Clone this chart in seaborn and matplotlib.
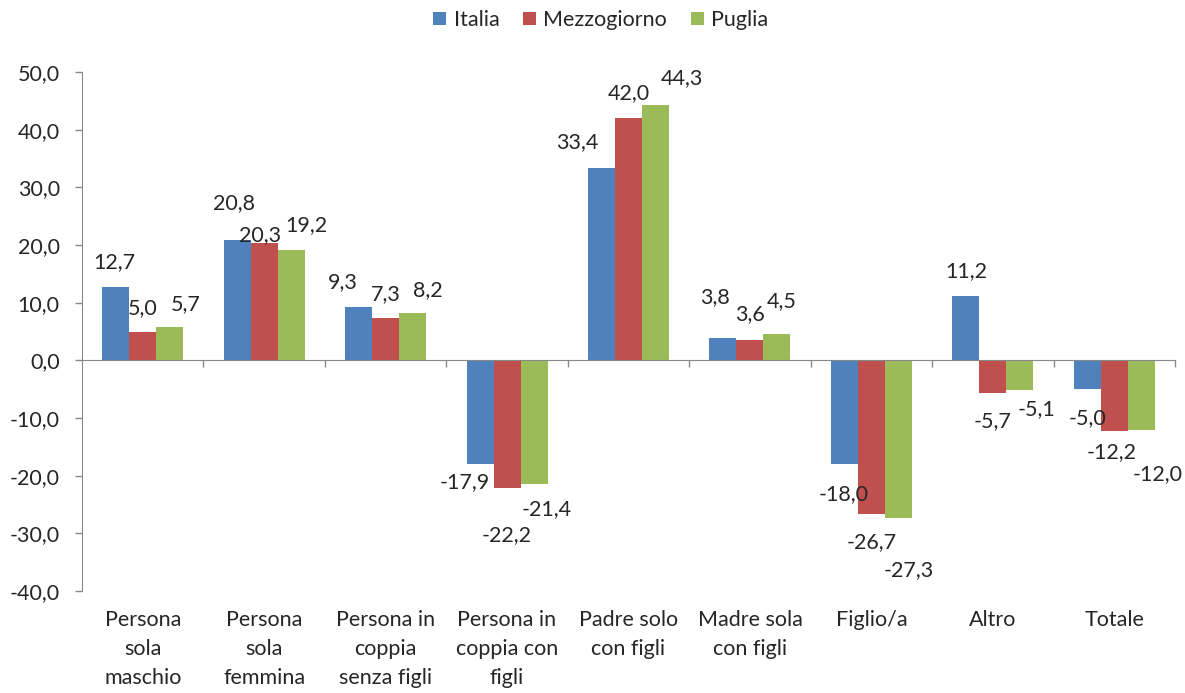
import matplotlib
matplotlib.use("Agg")
import matplotlib.pyplot as plt
import matplotlib.transforms as mtransforms
from matplotlib.ticker import FuncFormatter, FixedLocator
import seaborn as sns
import pandas as pd
import numpy as np

categories = ["Persona\nsola\nmaschio", "Persona\nsola\nfemmina", "Persona in\ncoppia\nsenza figli",
              "Persona in\ncoppia con\nfigli", "Padre solo\ncon figli", "Madre sola\ncon figli",
              "Figlio/a", "Altro", "Totale"]
series = ["Italia", "Mezzogiorno", "Puglia"]
italia = [12.7, 20.8, 9.3, -17.9, 33.4, 3.8, -18.0, 11.2, -5.0]
mezzogiorno = [5.0, 20.3, 7.3, -22.2, 42.0, 3.6, -26.7, -5.7, -12.2]
puglia = [5.7, 19.2, 8.2, -21.4, 44.3, 4.5, -27.3, -5.1, -12.0]
colors = ["#4F81BD", "#C0504D", "#9BBB59"]

# label placement (labels were moved by hand in the reference)
label_dx = [[-0.23, -0.25, -0.35, -0.35, -0.42, -0.29, -0.23, -0.22, -0.22],
            [0.00, -0.03, 0.00, 0.00, 0.00, 0.00, 0.00, 0.00, -0.02],
            [0.35, 0.35, 0.35, 0.33, 0.44, 0.26, 0.31, 0.36, 0.36]]
label_y = [[17.0, 27.2, 13.5, -21.1, 37.8, 10.9, -23.2, 15.5, -10.1],
           [9.0, 21.7, 11.5, -30.3, 46.4, 8.1, -31.5, -10.6, -15.9],
           [9.8, 23.4, 12.2, -25.8, 49.0, 10.3, -36.4, -8.5, -19.7]]

sns.set_style("white")
plt.rcParams["font.family"] = ["Lato", "DejaVu Sans"]
FS = 15.5

rows = []
for s, vals in zip(series, [italia, mezzogiorno, puglia]):
    for c, v in zip(categories, vals):
        rows.append({"cat": c, "serie": s, "val": v})
df = pd.DataFrame(rows)

fig = plt.figure(figsize=(11.85, 6.93), dpi=100)
ax = fig.add_axes([82 / 1185, 1 - 591 / 693, (1175 - 82) / 1185, (591 - 72) / 693])

sns.barplot(data=df, x="cat", y="val", hue="serie", order=categories, hue_order=series,
            palette=colors, width=0.667, gap=0, linewidth=0, saturation=1, ax=ax, legend=True)

ax.set_ylim(-40, 50)
ax.set_xlim(-0.5, len(categories) - 0.5)
ax.set_xlabel("")
ax.set_ylabel("")

ax.yaxis.set_major_locator(FixedLocator(np.arange(-40, 51, 10)))
ax.yaxis.set_major_formatter(FuncFormatter(lambda v, p: f"{v:.1f}".replace(".", ",")))
ax.tick_params(axis="y", labelsize=FS, length=5, width=1, color="#888888", pad=11, left=True, direction="out")

for side in ["top", "right"]:
    ax.spines[side].set_visible(False)
ax.spines["left"].set_color("#888888")
ax.spines["bottom"].set_color("#888888")
ax.spines["bottom"].set_position(("data", 0))

ax.set_xticks([])
ax.xaxis.set_minor_locator(FixedLocator(np.arange(0.5, len(categories) - 0.4, 1.0)))
ax.tick_params(axis="x", which="minor", length=5, width=1, color="#888888", bottom=True, direction="out")
ax.tick_params(axis="x", which="major", length=0, labelbottom=False)

trans = mtransforms.blended_transform_factory(ax.transData, ax.transAxes)
for i, c in enumerate(categories):
    ax.text(i, -0.037, c, transform=trans, ha="center", va="top", fontsize=FS, linespacing=1.55)

all_vals = [italia, mezzogiorno, puglia]
for s in range(3):
    for i in range(len(categories)):
        txt = f"{all_vals[s][i]:.1f}".replace(".", ",")
        ax.text(i + label_dx[s][i], label_y[s][i], txt, ha="center", va="center", fontsize=FS)

leg = ax.get_legend()
handles, labels = ax.get_legend_handles_labels()
leg.remove()
fig.legend(handles, labels, loc="center", bbox_to_anchor=(0.507, 1 - 20 / 693), ncol=3, frameon=False,
           fontsize=FS, handlelength=0.6, handleheight=0.6, handletextpad=0.35, columnspacing=1.1)

fig.savefig("out.png", dpi=100)
